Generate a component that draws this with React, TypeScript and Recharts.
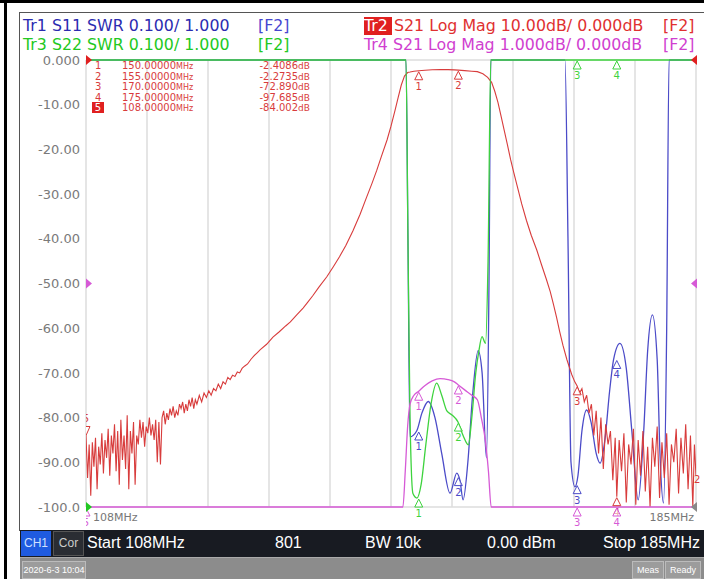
import { ComposedChart, Line, Scatter, XAxis, YAxis, CartesianGrid, ReferenceDot } from 'recharts';

const FONT = '"DejaVu Sans", Verdana, sans-serif';
const ARIAL = '"Liberation Sans", Arial, sans-serif';

const RED = '#d83c3c';
const BLUE = '#4b4bc8';
const GREEN = '#3ed33e';
const MAGENTA = '#d65ad6';

// stimulus grid, MHz (10 divisions)
const freqTicks = [108, 115.7, 123.4, 131.1, 138.8, 146.5, 154.2, 161.9, 169.6, 177.3, 185];
// Tr2 scale, 10 dB/div
const dbTicks = [0, -10, -20, -30, -40, -50, -60, -70, -80, -90, -100];
const dbTickLabels = ['0.000', '-10.00', '-20.00', '-30.00', '-40.00', '-50.00', '-60.00', '-70.00', '-80.00', '-90.00', '-100.0'];

// Tr2 S21 Log Mag [MHz, dB]
const s21NoiseLow: [number, number][] = [
  [108.0, -84.0], [108.2, -93.5], [108.4, -86.0], [108.6, -97.5], [108.8, -85.5], [109.0, -91.0],
  [109.2, -84.5], [109.4, -96.0], [109.6, -86.5], [109.8, -90.5], [110.0, -83.5], [110.2, -92.5],
  [110.4, -85.0], [110.6, -89.0], [110.8, -82.5], [111.0, -93.0], [111.2, -84.0], [111.4, -88.0],
  [111.6, -81.5], [111.8, -92.0], [112.0, -83.0], [112.2, -95.0], [112.4, -80.5], [112.6, -89.5],
  [112.8, -84.0], [113.0, -91.5], [113.2, -79.5], [113.4, -96.0], [113.6, -83.0], [113.8, -88.0],
  [114.0, -81.0], [114.2, -95.0], [114.4, -84.0], [114.6, -86.0], [114.8, -80.5], [115.0, -84.5],
  [115.2, -81.0], [115.4, -86.5], [115.6, -82.0], [115.8, -83.5], [116.0, -80.0], [116.2, -84.0],
  [116.4, -81.5], [116.6, -85.0], [116.8, -80.5], [117.0, -90.0], [117.2, -81.0], [117.4, -90.5],
  [117.6, -80.0], [117.8, -78.5], [118.0, -81.5], [118.2, -79.0], [118.4, -80.5], [118.6, -78.0],
  [118.8, -79.5], [119.0, -77.5], [119.2, -80.0], [119.4, -78.5], [119.6, -79.5], [119.8, -77.0],
  [120.0, -78.0], [120.2, -76.5], [120.4, -79.0], [120.6, -77.0], [120.8, -78.5], [121.0, -76.0],
  [121.2, -77.5], [121.4, -75.5], [121.6, -78.0], [121.8, -76.0], [122.0, -77.0], [122.3, -75.0],
  [122.6, -76.5], [122.9, -74.5], [123.2, -75.5], [123.5, -74.0], [123.8, -75.0], [124.1, -73.5],
  [124.4, -74.0], [124.7, -72.5], [125.0, -73.5], [125.3, -72.0], [125.6, -72.5], [125.9, -71.0],
  [126.2, -71.5], [126.5, -70.5], [126.8, -70.8], [127.1, -69.8], [127.4, -70.0], [127.7, -69.0],
];
const s21SkirtLow: [number, number][] = [
  [128.0, -68.5], [128.4, -68.0], [128.8, -67.0], [129.2, -66.2], [129.6, -65.5], [130.0, -64.8],
  [130.8, -63.6], [131.6, -62.0], [132.4, -60.8], [133.2, -59.5], [133.8, -58.6], [134.6, -57.0],
  [135.4, -55.5], [135.9, -54.4], [136.6, -52.8], [137.4, -50.8], [138.4, -48.5], [139.2, -46.3],
  [140.0, -44.0], [140.8, -41.5], [141.7, -38.2], [142.6, -34.5], [143.4, -30.8], [144.1, -27.6],
  [144.7, -24.7], [145.3, -21.5], [146.0, -17.9], [146.5, -14.8], [147.0, -11.3], [147.4, -8.4],
  [147.8, -5.6], [148.2, -3.6], [148.6, -2.8],
];
const s21Pass: [number, number][] = [
  [148.9, -2.7], [149.4, -2.5], [150.0, -2.41], [150.8, -2.28], [151.7, -2.18], [152.7, -2.13],
  [153.7, -2.15], [154.5, -2.2], [155.0, -2.27], [155.8, -2.38], [156.7, -2.5], [157.4, -2.6],
];
const s21SkirtHigh: [number, number][] = [
  [158.1, -3.1], [158.7, -3.9], [159.2, -5.0], [159.6, -7.0], [160.0, -9.5], [160.4, -12.6],
  [160.8, -15.8], [161.2, -19.0], [161.6, -22.3], [162.0, -25.2], [162.4, -28.0], [163.0, -32.2],
  [163.6, -35.9], [164.2, -39.2], [164.9, -42.5], [165.5, -45.8], [166.1, -49.0], [166.6, -51.8],
  [167.0, -54.6], [167.4, -57.6], [167.8, -60.8], [168.2, -63.8], [168.7, -67.0], [169.3, -70.3],
  [169.7, -72.0], [170.0, -72.9],
];
const s21NoiseHigh: [number, number][] = [
  [170.3, -74.5], [170.6, -73.5], [170.9, -76.5], [171.2, -75.0], [171.5, -79.0], [171.8, -77.0],
  [172.1, -84.0], [172.4, -78.5], [172.7, -88.0], [173.0, -80.0], [173.3, -91.5], [173.6, -81.5],
  [173.9, -86.0], [174.2, -83.0], [174.5, -94.0], [174.8, -84.5], [175.0, -97.7], [175.3, -85.0],
  [175.6, -92.0], [175.9, -83.5], [176.2, -99.0], [176.5, -86.0], [176.8, -90.5], [177.1, -82.5],
  [177.4, -99.5], [177.7, -85.0], [178.0, -93.0], [178.3, -83.0], [178.6, -96.5], [178.9, -86.5],
  [179.2, -100.0], [179.5, -84.5], [179.8, -91.0], [180.1, -82.0], [180.4, -98.0], [180.7, -85.5],
  [181.0, -93.5], [181.3, -83.5], [181.6, -99.5], [181.9, -86.0], [182.2, -90.0], [182.5, -82.5],
  [182.8, -97.0], [183.1, -84.5], [183.4, -92.5], [183.7, -81.5], [184.0, -96.0], [184.3, -84.0],
  [184.6, -100.0], [184.8, -86.0], [185.0, -93.0],
];

// Tr1 S11 SWR [MHz, SWR] (display clamps at 2.0)
const s11Swr: [number, number][] = [
  [108, 2.0], [148.39, 2.0], [148.64, 1.6], [148.9, 1.157], [149.74, 1.17], [150.4, 1.21],
  [151.2, 1.236], [152.05, 1.2], [152.9, 1.12], [153.95, 1.031], [154.8, 1.076], [155.2, 1.06],
  [155.6, 1.016], [156.2, 1.1], [156.8, 1.25], [157.5, 1.35], [158.0, 1.3], [158.55, 1.11],
  [158.87, 1.5], [159.1, 2.0], [168.46, 2.0], [168.84, 1.6], [169.22, 1.1], [169.72, 1.045],
  [170.1, 1.07], [170.6, 1.17], [171.2, 1.217], [171.75, 1.19], [172.4, 1.12], [172.9, 1.098],
  [173.5, 1.15], [174.1, 1.26], [174.6, 1.33], [175.4, 1.366], [176.2, 1.31], [176.9, 1.17],
  [177.7, 1.016], [178.4, 1.17], [178.9, 1.35], [179.5, 1.43], [180.1, 1.33], [180.45, 1.12],
  [180.9, 1.009], [181.3, 1.4], [181.6, 2.0], [185, 2.0],
];

// Tr3 S22 SWR [MHz, SWR]
const s22Swr: [number, number][] = [
  [108, 2.0], [148.39, 2.0], [148.64, 1.6], [148.9, 1.2], [149.27, 1.03], [149.77, 1.02],
  [150.3, 1.05], [150.9, 1.14], [151.55, 1.23], [152.27, 1.277], [152.9, 1.25], [153.55, 1.215],
  [154.2, 1.206], [154.96, 1.19], [155.6, 1.16], [156.26, 1.139], [156.7, 1.2], [157.2, 1.3],
  [157.6, 1.35], [157.99, 1.381], [158.43, 1.366], [158.75, 1.55], [159.1, 2.0], [185, 2.0],
];

// Tr4 S21 Log Mag 1 dB/div [MHz, dB] (display clamps at -5)
const s21Zoom: [number, number][] = [
  [108, -5.0], [148.0, -5.0], [148.3, -4.2], [148.6, -3.2], [148.9, -2.7], [149.4, -2.5],
  [150.0, -2.41], [150.8, -2.28], [151.7, -2.18], [152.7, -2.13], [153.7, -2.15], [154.5, -2.2],
  [155.0, -2.27], [155.8, -2.38], [156.7, -2.5], [157.4, -2.6], [157.9, -3.0], [158.4, -3.5],
  [158.8, -4.2], [159.15, -5.0], [185, -5.0],
];

// markers
const markerIds = ['1', '2', '3', '4', '5'];
const markerFreqs = [150, 155, 170, 175, 108];
const tr2MarkerDb = [-2.4086, -2.2735, -72.89, -97.685, -84.002];
const tr1MarkerSwr = [1.17, 1.068, 1.05, 1.33];
const tr3MarkerSwr = [1.02, 1.19, 2.0, 2.0];
const tr4MarkerDb = [-2.41, -2.27, -5, -5, -5];

const toRows = (pts: [number, number][]) => pts.map(([f, v]) => ({ f, v }));
const toMarkers = (vals: number[]) => vals.map((v, i) => ({ f: markerFreqs[i], v, id: markerIds[i] }));

const redData = toRows([...s21NoiseLow, ...s21SkirtLow, ...s21Pass, ...s21SkirtHigh, ...s21NoiseHigh]);

function markerShape(color: string) {
  return (props: any) => {
    const { cx, cy, payload } = props;
    if (cx == null || cy == null) return <g />;
    if (payload.id === '5' && color === RED) {
      return (
        <g>
          <polygon points={`${cx},${cy} ${cx - 4},${cy - 9} ${cx + 4},${cy - 9}`} fill="white" stroke={color} strokeWidth={1} />
          <text x={cx} y={cy - 13} fill={color} fontSize={10} fontFamily={FONT} textAnchor="middle">{payload.id}</text>
        </g>
      );
    }
    return (
      <g>
        <polygon points={`${cx},${cy + 1} ${cx - 4},${cy + 9} ${cx + 4},${cy + 9}`} fill="white" fillOpacity={0.6} stroke={color} strokeWidth={1} />
        <text x={cx} y={cy + 19} fill={color} fontSize={10} fontFamily={FONT} textAnchor="middle">{payload.id}</text>
      </g>
    );
  };
}

const arrowRight = (color: string) => (p: any) => (
  <polygon points={`${p.cx},${p.cy - 5} ${p.cx + 6},${p.cy} ${p.cx},${p.cy + 5}`} fill={color} />
);
const arrowLeft = (color: string) => (p: any) => (
  <polygon points={`${p.cx + 1},${p.cy - 5} ${p.cx - 5},${p.cy} ${p.cx + 1},${p.cy + 5}`} fill={color} />
);

function MarkerTable() {
  return (
    <div style={{ position: 'absolute', left: 92, top: 60, fontFamily: FONT, color: RED, fontSize: 10 }}>
      {markerFreqs.map((f, i) => (
        <div key={i} style={{ position: 'absolute', top: i * 10.5, left: 0, width: 218, height: 11, lineHeight: '11px', whiteSpace: 'nowrap' }}>
          <span style={{ position: 'absolute', left: i === 4 ? 0 : 3, width: i === 4 ? 12 : 'auto', background: i === 4 ? '#e02020' : 'none', color: i === 4 ? 'white' : RED, textAlign: 'center' }}>{markerIds[i]}</span>
          <span style={{ position: 'absolute', left: 30 }}>{f.toFixed(5)}<span style={{ fontSize: 8 }}>MHz</span></span>
          <span style={{ position: 'absolute', right: 0 }}>{tr2MarkerDb[i].toPrecision(5)}<span style={{ fontSize: 9 }}>dB</span></span>
        </div>
      ))}
    </div>
  );
}

const header = (text: string, color: string, left: number, top: number) => (
  <div style={{ position: 'absolute', left, top, color, fontFamily: FONT, fontSize: 15.8, whiteSpace: 'nowrap', lineHeight: '18px' }}>{text}</div>
);

const statusText = (text: string, left: number) => (
  <div style={{ position: 'absolute', left, top: 4, color: 'white', fontFamily: ARIAL, fontSize: 16, whiteSpace: 'nowrap' }}>{text}</div>
);

export default function App() {
  return (
    <div style={{ position: 'absolute', left: 0, top: 0, width: 704, height: 579, background: 'white', overflow: 'hidden' }}>
      {/* outer frame */}
      <div style={{ position: 'absolute', left: 0, top: 0, width: 704, height: 3, background: '#000' }} />
      <div style={{ position: 'absolute', left: 4, top: 0, width: 3, height: 579, background: '#000' }} />
      <div style={{ position: 'absolute', left: 19, top: 12, width: 685, height: 518, borderLeft: '1px solid #555', borderTop: '1px solid #555' }} />

      {/* trace header */}
      {header('Tr1 S11 SWR 0.100/ 1.000', '#2b2bb0', 23, 17)}
      {header('[F2]', '#4646d0', 258, 17)}
      {header('Tr3 S22 SWR 0.100/ 1.000', '#22c822', 23, 36)}
      {header('[F2]', '#22c822', 258, 36)}
      <div style={{ position: 'absolute', left: 364, top: 17, width: 28, height: 18, background: '#e02020' }} />
      {header('Tr2', 'white', 364, 17)}
      {header('S21 Log Mag 10.00dB/ 0.000dB', '#e03030', 394, 17)}
      {header('[F2]', '#e03030', 663, 17)}
      {header('Tr4 S21 Log Mag 1.000dB/ 0.000dB', '#d040d0', 364, 36)}
      {header('[F2]', '#d040d0', 663, 36)}

      <div style={{ position: 'absolute', left: 0, top: 0 }}>
        <ComposedChart width={704} height={579} margin={{ top: 60, right: 8, bottom: 72, left: 26 }}>
          <CartesianGrid stroke="#dcdcdc" strokeWidth={1.5} />
          <XAxis dataKey="f" type="number" domain={[108, 185]} ticks={freqTicks} hide allowDataOverflow />
          <YAxis
            yAxisId="db10"
            type="number"
            domain={[-100, 0]}
            ticks={dbTicks}
            width={60}
            tickLine={false}
            axisLine={false}
            tickSize={0}
            tickMargin={6}
            tick={{ fill: '#7a7a7a', fontSize: 13, fontFamily: FONT }}
            tickFormatter={(v: number) => dbTickLabels[dbTicks.indexOf(v)]}
          />
          <YAxis yAxisId="swr" orientation="right" type="number" domain={[1, 2]} hide />
          <YAxis yAxisId="db1" orientation="right" type="number" domain={[-5, 5]} hide />

          <Line data={toRows(s11Swr)} dataKey="v" yAxisId="swr" type="monotone" stroke={BLUE} strokeWidth={1.3} dot={false} isAnimationActive={false} />
          <Line data={redData} dataKey="v" yAxisId="db10" stroke={RED} strokeWidth={1.1} dot={false} isAnimationActive={false} />
          <Line data={toRows(s22Swr)} dataKey="v" yAxisId="swr" type="monotone" stroke={GREEN} strokeWidth={1.3} dot={false} isAnimationActive={false} />
          <Line data={toRows(s21Zoom)} dataKey="v" yAxisId="db1" type="monotone" stroke={MAGENTA} strokeWidth={1.3} dot={false} isAnimationActive={false} />

          <Scatter data={toMarkers(tr1MarkerSwr)} dataKey="v" yAxisId="swr" shape={markerShape(BLUE)} isAnimationActive={false} />
          <Scatter data={toMarkers(tr2MarkerDb)} dataKey="v" yAxisId="db10" shape={markerShape(RED)} isAnimationActive={false} />
          <Scatter data={toMarkers(tr3MarkerSwr)} dataKey="v" yAxisId="swr" shape={markerShape(GREEN)} isAnimationActive={false} />
          <Scatter data={toMarkers(tr4MarkerDb)} dataKey="v" yAxisId="db1" shape={markerShape(MAGENTA)} isAnimationActive={false} />

          {/* reference position arrows */}
          <ReferenceDot x={108} y={0} yAxisId="db10" shape={arrowRight('#e02020')} />
          <ReferenceDot x={185} y={0} yAxisId="db10" shape={arrowLeft('#e02020')} />
          <ReferenceDot x={108} y={0} yAxisId="db1" shape={arrowRight(MAGENTA)} />
          <ReferenceDot x={185} y={0} yAxisId="db1" shape={arrowLeft(MAGENTA)} />
          <ReferenceDot x={108} y={1} yAxisId="swr" shape={arrowRight('#22c822')} />
          <ReferenceDot x={185} y={1} yAxisId="swr" shape={arrowLeft('#888')} />
        </ComposedChart>
      </div>

      <MarkerTable />

      {/* trace number at end of Tr2 */}
      <div style={{ position: 'absolute', left: 694, top: 474, color: RED, fontFamily: FONT, fontSize: 10 }}>2</div>

      {/* start / stop labels */}
      <div style={{ position: 'absolute', left: 93, top: 511, color: '#777', fontFamily: FONT, fontSize: 11 }}>108MHz</div>
      <div style={{ position: 'absolute', right: 10, top: 511, color: '#777', fontFamily: FONT, fontSize: 11 }}>185MHz</div>

      {/* channel status bar */}
      <div style={{ position: 'absolute', left: 20, top: 530, width: 684, height: 27, background: '#181b22' }}>
        <div style={{ position: 'absolute', left: 1, top: 1, width: 30, height: 25, background: '#1f5be0', color: '#cfe0ff', fontFamily: ARIAL, fontSize: 12, lineHeight: '25px', textAlign: 'center' }}>CH1</div>
        <div style={{ position: 'absolute', left: 33, top: 1, width: 29, height: 23, border: '1px solid #555', background: '#2a2d33', color: '#ccc', fontFamily: ARIAL, fontSize: 12, lineHeight: '23px', textAlign: 'center' }}>Cor</div>
        {statusText('Start 108MHz', 67)}
        {statusText('801', 255)}
        {statusText('BW 10k', 345)}
        {statusText('0.00 dBm', 467)}
        {statusText('Stop 185MHz', 583)}
      </div>

      {/* instrument status bar */}
      <div style={{ position: 'absolute', left: 20, top: 557, width: 684, height: 22, background: '#8c8c8c', borderTop: '1px solid #aaa' }}>
        <div style={{ position: 'absolute', left: 2, top: 3, width: 62, height: 16, background: '#9c9c9c', border: '1px solid #bbb', color: 'white', fontFamily: ARIAL, fontSize: 9, lineHeight: '16px', textAlign: 'center' }}>2020-6-3 10:04</div>
        <div style={{ position: 'absolute', left: 612, top: 3, width: 30, height: 16, background: '#9c9c9c', border: '1px solid #bbb', color: 'white', fontFamily: ARIAL, fontSize: 9, lineHeight: '16px', textAlign: 'center' }}>Meas</div>
        <div style={{ position: 'absolute', left: 645, top: 3, width: 34, height: 16, background: '#9c9c9c', border: '1px solid #bbb', color: 'white', fontFamily: ARIAL, fontSize: 9, lineHeight: '16px', textAlign: 'center' }}>Ready</div>
      </div>
    </div>
  );
}
